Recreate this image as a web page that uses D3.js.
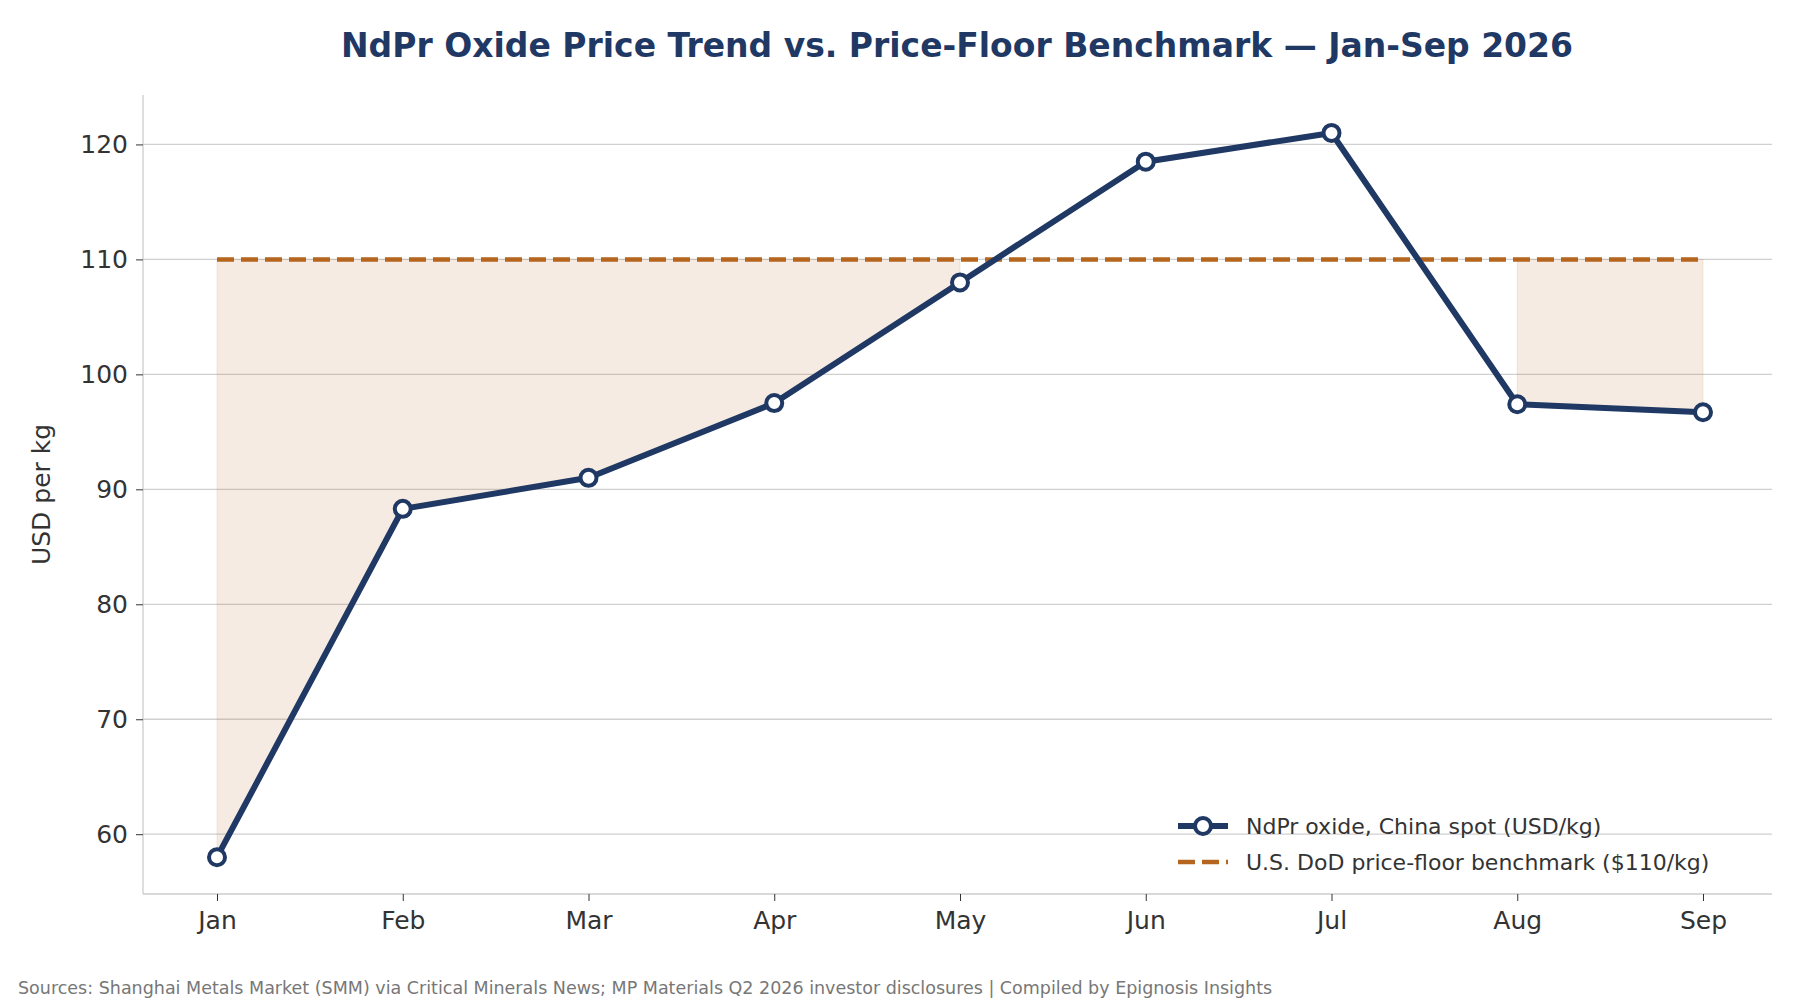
<!DOCTYPE html><html><head><meta charset="utf-8"><script src="https://cdn.jsdelivr.net/npm/d3@7"></script>
<style>body{margin:0;background:#fff}text{font-family:"DejaVu Sans",sans-serif}</style></head><body><svg id="c" width="1800" height="1000"></svg><script>
const months=["Jan","Feb","Mar","Apr","May","Jun","Jul","Aug","Sep"];
const price=[58,88.3,91,97.5,108,118.5,121,97.4,96.7];
const floorV=110;
const yTicks=[60,70,80,90,100,110,120];
const navy="#1f3864",orange="#b5651d";
const svg=d3.select("#c");
const L=143,R=1772,T=95,B=894;
const x=d3.scalePoint().domain(months).range([217,1703]);
const y=d3.scaleLinear().domain([54.8,124.3]).range([B,T]);
// grid
svg.append("g").selectAll("line").data(yTicks).join("line").attr("x1",L).attr("x2",R).attr("y1",d=>y(d)).attr("y2",d=>y(d)).attr("stroke","#d0d0d0").attr("stroke-width",1.3);
// fill segments
let segs=[],cur=[];
price.forEach((v,i)=>{if(v<floorV)cur.push(i);else{if(cur.length)segs.push(cur);cur=[];}});
if(cur.length)segs.push(cur);
const area=d3.area().x(i=>x(months[i])).y0(()=>y(floorV)).y1(i=>y(price[i]));
segs.forEach(s=>svg.append("path").attr("d",area(s)).attr("fill",orange).attr("fill-opacity",0.13).attr("stroke",orange).attr("stroke-opacity",0.13));
// axes
const ax=svg.append("g").attr("transform",`translate(0,${B})`).call(d3.axisBottom(x).tickSize(7).tickPadding(10));
const ay=svg.append("g").attr("transform",`translate(${L},0)`).call(d3.axisLeft(y).tickValues(yTicks).tickSize(7).tickPadding(8));
[ax,ay].forEach(a=>{a.select(".domain").attr("stroke","#cccccc").attr("stroke-width",1.3);a.selectAll(".tick line").attr("stroke","#333");a.selectAll("text").attr("font-size",25).attr("fill","#333").attr("font-family","DejaVu Sans");});
ax.select(".domain").attr("d",`M${L},0H${R}`);
ay.select(".domain").attr("d",`M0,${B}V${T}`);
// floor line
svg.append("line").attr("x1",x("Jan")).attr("x2",x("Sep")).attr("y1",y(floorV)).attr("y2",y(floorV)).attr("stroke",orange).attr("stroke-width",4.5).attr("stroke-dasharray","17,7");
// price line
svg.append("path").datum(price).attr("d",d3.line().x((d,i)=>x(months[i])).y(d=>y(d))).attr("fill","none").attr("stroke",navy).attr("stroke-width",6).attr("stroke-linejoin","round");
svg.append("g").selectAll("circle").data(price).join("circle").attr("cx",(d,i)=>x(months[i])).attr("cy",d=>y(d)).attr("r",8).attr("fill","#fff").attr("stroke",navy).attr("stroke-width",4);
// title
svg.append("text").attr("x",957).attr("y",57).attr("text-anchor","middle").attr("font-size",33).attr("font-weight","bold").attr("fill",navy).text("NdPr Oxide Price Trend vs. Price-Floor Benchmark — Jan-Sep 2026");
svg.append("text").attr("transform",`translate(50,${(T+B)/2}) rotate(-90)`).attr("text-anchor","middle").attr("font-size",25).attr("fill","#333").text("USD per kg");
// legend
const lg=svg.append("g");
lg.append("line").attr("x1",1178).attr("x2",1228).attr("y1",826).attr("y2",826).attr("stroke",navy).attr("stroke-width",6);
lg.append("circle").attr("cx",1203).attr("cy",826).attr("r",8).attr("fill","#fff").attr("stroke",navy).attr("stroke-width",4);
lg.append("line").attr("x1",1178).attr("x2",1228).attr("y1",862).attr("y2",862).attr("stroke",orange).attr("stroke-width",4.5).attr("stroke-dasharray","17,7");
lg.append("text").attr("x",1246).attr("y",834).attr("font-size",22).attr("fill","#333").text("NdPr oxide, China spot (USD/kg)");
lg.append("text").attr("x",1246).attr("y",870).attr("font-size",22).attr("fill","#333").text("U.S. DoD price-floor benchmark ($110/kg)");
svg.append("text").attr("x",18).attr("y",994).attr("font-size",17.5).attr("fill","#777").text("Sources: Shanghai Metals Market (SMM) via Critical Minerals News; MP Materials Q2 2026 investor disclosures | Compiled by Epignosis Insights");
</script></body></html>
